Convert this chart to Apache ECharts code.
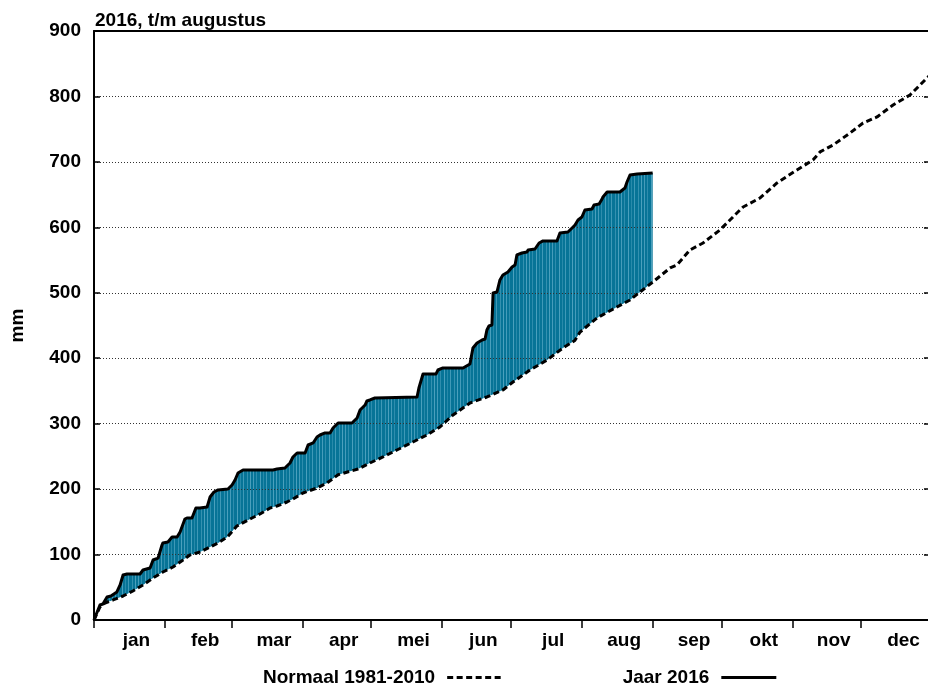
<!DOCTYPE html>
<html>
<head>
<meta charset="utf-8">
<script src="https://cdn.jsdelivr.net/npm/echarts@6/dist/echarts.min.js"></script>
<style>
html,body{margin:0;padding:0;background:#fff;}
#chart{width:928px;height:688px;}
</style>
</head>
<body>
<div id="chart"></div>
<script>
// ---- data ----
const titleText = '2016, t/m augustus';
const months = ['jan','feb','mar','apr','mei','jun','jul','aug','sep','okt','nov','dec'];
const monthStarts = [0,31,60,91,121,152,182,213,244,274,305,335,366];
const yTickMin = 0, yTickMax = 900, yTickStep = 100;

// cumulative precipitation 2016 (day of year, mm)
const jaar2016 = [
 [0,0],[2.6,22.9],[3.9,24.4],[5.7,35.1],[7.4,36.7],[10.0,42.8],[11.4,53.5],[12.7,68.8],[14.4,70.3],
 [20.1,70.3],[21.4,76.4],[24.5,79.5],[25.8,91.7],[28.0,94.7],[29.7,114.6],[30.1,117.7],[32.3,119.2],
 [34.1,126.8],[36.3,126.8],[37.6,134.5],[39.7,154.3],[40.6,155.9],[42.8,155.9],[44.5,171.1],[46.3,171.1],
 [49.4,172.7],[50.7,188.0],[52.4,195.6],[54.2,198.7],[58.5,200.2],[60.3,206.3],[61.6,213.9],[62.9,224.6],
 [65.1,229.2],[78.2,229.2],[79.9,230.7],[83.4,232.3],[85.6,239.9],[86.9,249.1],[88.7,255.2],[92.2,255.2],
 [93.5,267.4],[95.7,270.5],[97.4,279.6],[98.7,282.7],[100.9,285.8],[103.1,285.8],[104.4,293.4],[106.6,301.0],
 [112.7,301.0],[114.9,308.7],[116.2,320.9],[118.4,328.5],[119.2,334.7],[120.5,336.2],[122.7,339.2],
 [141.1,340.8],[141.9,354.5],[143.7,375.9],[149.4,375.9],[150.2,382.0],[152.4,385.1],[161.2,385.1],
 [164.2,391.2],[165.5,415.6],[167.3,423.3],[169.5,427.9],[170.8,429.4],[171.6,443.2],[172.5,449.3],
 [173.8,450.8],[174.3,499.7],[176.0,501.2],[177.3,519.6],[178.6,527.2],[180.8,531.8],[182.6,539.4],
 [183.9,542.5],[184.7,557.8],[186.9,560.8],[189.1,562.3],[189.6,565.4],[192.6,566.9],[194.4,576.1],
 [196.1,579.2],[202.2,579.2],[203.5,591.4],[207.0,592.9],[208.8,599.0],[210.1,603.6],[211.4,611.2],
 [213.1,615.8],[214.4,626.5],[217.5,628.1],[218.4,634.2],[220.6,635.7],[221.9,643.3],[222.3,646.4],
 [224.1,654.0],[229.7,654.0],[231.9,660.1],[232.8,669.3],[234.1,680.0],[237.2,681.5],[244,683.1]
];

// normal cumulative precipitation 1981-2010 (day of year, mm)
const normaal = [
 [0,0],[2.6,19.9],[4.8,26.0],[8.3,30.6],[12.7,36.7],[17.0,44.3],[21.4,53.5],[25.8,64.2],[30.1,73.3],
 [34.5,81.0],[38.9,91.7],[41.9,99.3],[46.3,103.9],[50.7,111.6],[54.2,117.7],[58.2,126.8],[62.4,143.6],
 [69.0,155.9],[72.5,162.0],[76.9,171.1],[79.9,174.2],[84.3,180.3],[86.9,184.9],[91.3,194.1],[97.4,201.7],
 [101.8,209.4],[106.6,222.0],[115.3,230.7],[120.5,239.9],[126.2,249.1],[132.3,259.8],[139.3,272.0],
 [145.4,282.7],[151.1,294.9],[156.8,313.3],[164.2,331.6],[171.6,340.8],[178.6,351.5],[183.0,363.7],
 [190.4,382.0],[197.9,397.3],[204.8,415.6],[210.0,427.0],[212.3,440.0],[219.7,461.5],[228.4,478.3],
 [234.1,489.0],[238.5,501.2],[244.1,516.5],[251.6,537.9],[254.6,542.5],[260.3,565.4],[266.0,576.1],
 [273.4,596.0],[280.8,621.9],[283.5,631.1],[290.9,644.9],[298.3,667.8],[307.0,687.7],[314.0,702.9],
 [317.1,715.2],[322.8,725.8],[330.2,744.2],[335.9,759.5],[342.0,768.6],[349.0,787.0],[356.4,802.3],
 [364.3,829.8],[366,835]
];

const nameNormaal = 'Normaal 1981-2010';
const nameJaar = 'Jaar 2016';

// ---- derived ----
const monthMids = months.map((m, i) => (monthStarts[i] + monthStarts[i + 1]) / 2);

const FONT = "'Liberation Sans', Arial, Helvetica, sans-serif";

// striped fill pattern
function makePattern() {
  const c = document.createElement('canvas');
  c.width = 23; c.height = 4;
  const g = c.getContext('2d');
  g.fillStyle = '#077497';
  g.fillRect(0, 0, c.width, c.height);
  const stripes = [[0, 0.55], [3, 0.35], [7, 0.6], [10, 0.3], [13, 0.5], [17, 0.4], [20, 0.6]];
  stripes.forEach(([x, a]) => {
    g.fillStyle = 'rgba(120,190,215,' + a + ')';
    g.fillRect(x, 0, 1, c.height);
  });
  return c;
}

const chart = echarts.init(document.getElementById('chart'), null, {renderer: 'canvas'});

const option = {
  animation: false,
  backgroundColor: '#fff',
  textStyle: {fontFamily: FONT},
  title: {
    text: titleText,
    left: 90, top: 6,
    textStyle: {fontFamily: FONT, fontWeight: 'bold', fontSize: 19, color: '#000'}
  },
  legend: {
    data: [nameNormaal, nameJaar],
    left: 258, top: 663,
    align: 'right',
    itemWidth: 55, itemHeight: 22,
    itemGap: 119,
    selectedMode: false,
    itemStyle: {opacity: 0},
    lineStyle: {width: 3},
    textStyle: {fontFamily: FONT, fontWeight: 'bold', fontSize: 19, color: '#000', padding: [0, 7, 0, 0]}
  },
  grid: {left: 94, top: 31, width: 838, height: 589, outerBoundsMode: 'none', containLabel: false},
  xAxis: [{
    type: 'value', min: 0, max: 366, z: 1.5,
    axisLine: {show: true, onZero: false, lineStyle: {color: '#000', width: 2}},
    axisTick: {show: true, customValues: monthStarts, length: 8, inside: false, lineStyle: {color: '#000', width: 1.5}},
    axisLabel: {
      show: true, customValues: monthMids, margin: 11,
      padding: [0, 0, 0, 14],
      fontFamily: FONT, fontWeight: 'bold', fontSize: 19, color: '#000',
      formatter: function (v) {
        const i = monthMids.findIndex(m => Math.abs(m - v) < 0.01);
        return i >= 0 ? months[i] : '';
      }
    },
    splitLine: {show: false}
  }, {
    type: 'value', min: 0, max: 366, position: 'top', z: 1.5,
    axisLine: {show: true, onZero: false, lineStyle: {color: '#000', width: 2}},
    axisTick: {show: false}, axisLabel: {show: false}, splitLine: {show: false}
  }],
  yAxis: [{
    type: 'value', min: yTickMin, max: yTickMax, interval: yTickStep, z: 1.5,
    name: 'mm', nameLocation: 'middle', nameGap: 67,
    nameTextStyle: {fontFamily: FONT, fontWeight: 'bold', fontSize: 19, color: '#000'},
    axisLine: {show: true, onZero: false, lineStyle: {color: '#000', width: 2}},
    axisTick: {show: true, inside: true, length: 6, lineStyle: {color: '#000', width: 1.5}},
    axisLabel: {fontFamily: FONT, fontWeight: 'bold', fontSize: 19, color: '#000', margin: 13},
    splitLine: {show: true, lineStyle: {color: '#333', width: 1, type: [1, 2]}}
  }, {
    type: 'value', min: yTickMin, max: yTickMax, interval: yTickStep, position: 'right', z: 1.5,
    axisLine: {show: true, onZero: false, lineStyle: {color: '#000', width: 2}},
    axisTick: {show: true, inside: true, length: 8, lineStyle: {color: '#000', width: 1.5}},
    axisLabel: {show: false}, splitLine: {show: false}
  }],
  series: [
    {
      name: 'fill2016', type: 'line', data: jaar2016, z: 1, silent: true,
      showSymbol: false, symbol: 'none',
      lineStyle: {width: 0, opacity: 0},
      areaStyle: {color: {image: makePattern(), repeat: 'repeat'}, opacity: 1}
    },
    {
      name: 'fillNormaal', type: 'line', data: normaal, z: 1, silent: true,
      showSymbol: false, symbol: 'none',
      lineStyle: {width: 0, opacity: 0},
      areaStyle: {color: '#ffffff', opacity: 1}
    },
    {
      name: nameNormaal, type: 'line', data: normaal, z: 3,
      showSymbol: false, symbol: 'none',
      lineStyle: {color: '#000', width: 3, type: [6, 3.5], cap: 'butt'},
      itemStyle: {color: '#000'}
    },
    {
      name: nameJaar, type: 'line', data: jaar2016, z: 4,
      showSymbol: false, symbol: 'none',
      lineStyle: {color: '#000', width: 3, join: 'round'},
      itemStyle: {color: '#000'}
    }
  ]
};
chart.setOption(option);
</script>
</body>
</html>
